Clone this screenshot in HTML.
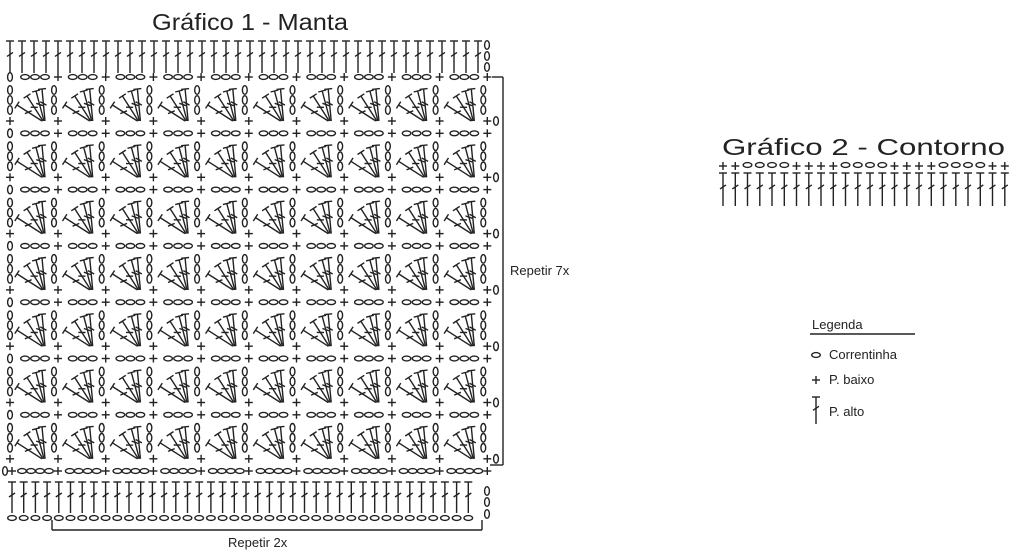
<!DOCTYPE html>
<html><head><meta charset="utf-8"><style>
html,body{margin:0;padding:0;background:#fff;width:1024px;height:556px;overflow:hidden}
svg{display:block}
text{font-family:"Liberation Sans",sans-serif;fill:#222}
</style></head><body>
<svg id="s" width="1024" height="556" viewBox="0 0 1024 556" xmlns="http://www.w3.org/2000/svg">
<g id="g" stroke="#222" stroke-width="1.4" fill="none"></g>
<text x="152" y="30" font-size="23" textLength="196" lengthAdjust="spacingAndGlyphs">Gráfico 1 - Manta</text>
<text x="722" y="155" font-size="23" textLength="283" lengthAdjust="spacingAndGlyphs">Gráfico 2 - Contorno</text>
<text x="510" y="275" font-size="13">Repetir 7x</text>
<text x="228" y="547" font-size="13">Repetir 2x</text>
<text x="812" y="329" font-size="13">Legenda</text>
<text x="829" y="359" font-size="13">Correntinha</text>
<text x="829" y="384" font-size="13">P. baixo</text>
<text x="829" y="416" font-size="13">P. alto</text>
</svg>
<script>
var g=document.getElementById('g'),h='';
function L(a,b,c,d){h+='<line x1="'+a.toFixed(1)+'" y1="'+b.toFixed(1)+'" x2="'+c.toFixed(1)+'" y2="'+d.toFixed(1)+'"/>';}
function V(x,y){h+='<ellipse cx="'+x.toFixed(1)+'" cy="'+y.toFixed(1)+'" rx="2.4" ry="4.3"/>';}
function H(x,y){h+='<ellipse cx="'+x.toFixed(1)+'" cy="'+y.toFixed(1)+'" rx="4.3" ry="2.4"/>';}
function P(x,y){L(x-4,y,x+4,y);L(x,y-4,x,y+4);}
function T(x,y1,y2){L(x,y1,x,y2);L(x-4,y1,x+4,y1);var m=y1+(y2-y1)*0.42;L(x-3,m+2,x+3,m-2);}
function TA(bx,by,tx,ty){var dx=tx-bx,dy=ty-by,l=Math.hypot(dx,dy),ux=dx/l,uy=dy/l,px=-uy,py=ux;
 L(bx,by,tx,ty);L(tx-px*4,ty-py*4,tx+px*4,ty+py*4);var mx=bx+dx*0.55,my=by+dy*0.55;
 L(mx-px*3+ux*2,my-py*3+uy*2,mx+px*3-ux*2,my+py*3-uy*2);}
for(var j=0;j<40;j++)T(10+j*12,41,73);
V(487,45);V(487,56);V(487,67);
var PER=47.7;
for(var i=0;i<7;i++){var yc=77+56.3*i;
 V(10,yc);
 for(var k=0;k<10;k++){var x0=11+PER*k;H(x0+14,yc);H(x0+24,yc);H(x0+34,yc);P(x0+47,yc);}
 V(10,yc+13);V(10,yc+23);V(10,yc+33);P(10,yc+44);
 for(var k=0;k<10;k++){var x0=11+PER*k;
  V(x0+43,yc+13);V(x0+43,yc+23);V(x0+43,yc+33);P(x0+47,yc+44);
  var by=yc+44;
  TA(x0+31,by,x0+6,yc+28);TA(x0+32,by,x0+16,yc+19);TA(x0+33,by,x0+25,yc+14);TA(x0+34,by,x0+31,yc+12);
 }
 V(496,yc+44);
}
L(492,77,503,77);L(503,77,503,465);L(503,465,490,465);
var yb=471;V(5,yb);P(12,yb);
for(var k=0;k<10;k++){var x0=11+PER*k;H(x0+11,yb);H(x0+20,yb);H(x0+29,yb);H(x0+38,yb);P(x0+47,yb);}
for(var j=0;j<40;j++){var x=12+j*11.7;T(x,482,513);H(x,518);}
V(487,491);V(487,502);V(487,514);
L(52,520,52,530);L(52,530,482,530);L(482,530,482,520);
var pat="++oooo++++oooo++++oooo++";
for(var j=0;j<24;j++){var x=723+12.25*j;if(pat[j]=='+')P(x,166);else H(x,165);T(x,173,206);}
L(810,334,915,334);
H(816,355);P(816,380);T(816,397,424);
g.innerHTML=h;
</script>
</body></html>
